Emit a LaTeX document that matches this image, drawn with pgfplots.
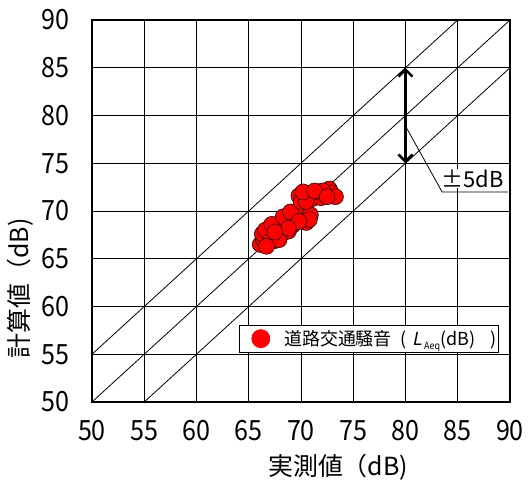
\documentclass[border=0pt]{standalone}
\usepackage{fontspec}
\setmainfont{Noto Sans CJK JP}
\newfontfamily\tickfont[FakeStretch=0.9]{Noto Sans CJK JP}
\newfontfamily\itfont[FakeSlant=0.2]{Noto Sans CJK JP}
\usepackage{pgfplots}
\pgfplotsset{compat=1.18}
\usetikzlibrary{arrows.meta}

\pgfplotstableread{
x y
66.1 66.5
66.4 67.0
66.8 66.7
66.3 67.6
66.9 67.9
67.2 67.3
67.5 66.9
67.8 67.6
67.4 68.3
68.0 68.2
68.3 67.7
68.6 68.4
68.2 68.9
68.9 69.0
69.2 68.5
69.5 69.3
69.0 69.5
69.8 69.8
70.2 69.5
70.5 70.0
70.1 70.3
69.6 70.0
68.7 69.3
67.9 68.7
67.1 68.1
66.6 68.0
67.6 67.2
68.4 68.0
69.3 69.1
70.6 69.2
70.9 69.6
68.8 67.9
67.2 68.6
68.3 69.4
69.0 69.9
70.5 68.8
70.8 69.1
69.8 68.9
67.0 66.8
67.9 67.0
68.8 68.2
66.7 66.3
67.5 67.8
69.8 71.6
70.3 71.4
70.7 71.8
71.1 71.3
71.5 71.7
71.9 71.4
72.3 71.8
72.7 72.3
72.9 71.9
73.3 71.5
71.7 72.0
70.0 71.0
70.5 71.0
72.1 72.1
70.2 72.0
71.3 72.1
72.5 71.5
}\measured

\begin{document}
\begin{tikzpicture}
\begin{axis}[
  at={(0,0)}, anchor=south west,
  width=418bp, height=382bp, scale only axis,
  xmin=50, xmax=90, ymin=50, ymax=90,
  xtick={50,55,...,90}, ytick={50,55,...,90},
  grid=major, major grid style={black, line width=0.8bp},
  axis line style={black, line width=1.2bp},
  major tick length=0pt,
  /pgf/number format/assume math mode=true,
  tick label style={font=\tickfont\fontsize{28}{28}\selectfont, inner sep=0pt},
  yticklabel style={xshift=-22bp},
  xticklabel style={yshift=-18bp},
  xlabel={実測値（dB)},
  ylabel={計算値（dB)},
  label style={font=\fontsize{25}{25}\selectfont},
  xlabel style={at={(axis description cs:0.589,-0.170)}, anchor=center},
  ylabel style={at={(axis description cs:-0.172,0.298)}, anchor=center},
  legend style={at={(axis cs:64.07,55.2)}, anchor=south west, draw=black, line width=0.8bp,
    font=\fontsize{18}{18}\selectfont, inner xsep=0bp, inner ysep=3bp},
  legend image code/.code={\path (-21bp,0bp) (21bp,0bp); \fill[red] (0bp,0bp) circle (9bp);},
]
\addplot[only marks, mark=*, mark size=8bp, mark options={fill=red, draw=black, line width=0.5bp}] table {\measured};
\addlegendentry{道路交通騒音\hspace{9bp}(\hspace{6bp}{\itfont L}\kern1.5bp\raisebox{-0.4ex}{\tickfont\fontsize{10}{10}\selectfont Aeq}(dB)\hspace{15bp})\hspace{8bp}}
\addplot[black, line width=0.8bp, forget plot] coordinates {(50,50) (90,90)};
\addplot[black, line width=0.8bp, forget plot] coordinates {(50,55) (85,90)};
\addplot[black, line width=0.8bp, forget plot] coordinates {(55,50) (90,85)};
\addplot[black, line width=2.5bp, {Straight Barb[length=7bp,width=14bp]}-{Straight Barb[length=7bp,width=14bp]}, forget plot] coordinates {(80,75) (80,85)};
\addplot[black, line width=0.8bp, forget plot] coordinates {(80.1,78.7) (83.5,72.0) (89.8,72.0)};
\node[fill=white, inner sep=1bp, font=\fontsize{22}{22}\selectfont] at (axis cs:86.4,73.4) {±5dB};
\end{axis}
\pgfresetboundingbox
\path (-92bp,-82bp) rectangle (436bp,402bp);
\end{tikzpicture}
\end{document}
